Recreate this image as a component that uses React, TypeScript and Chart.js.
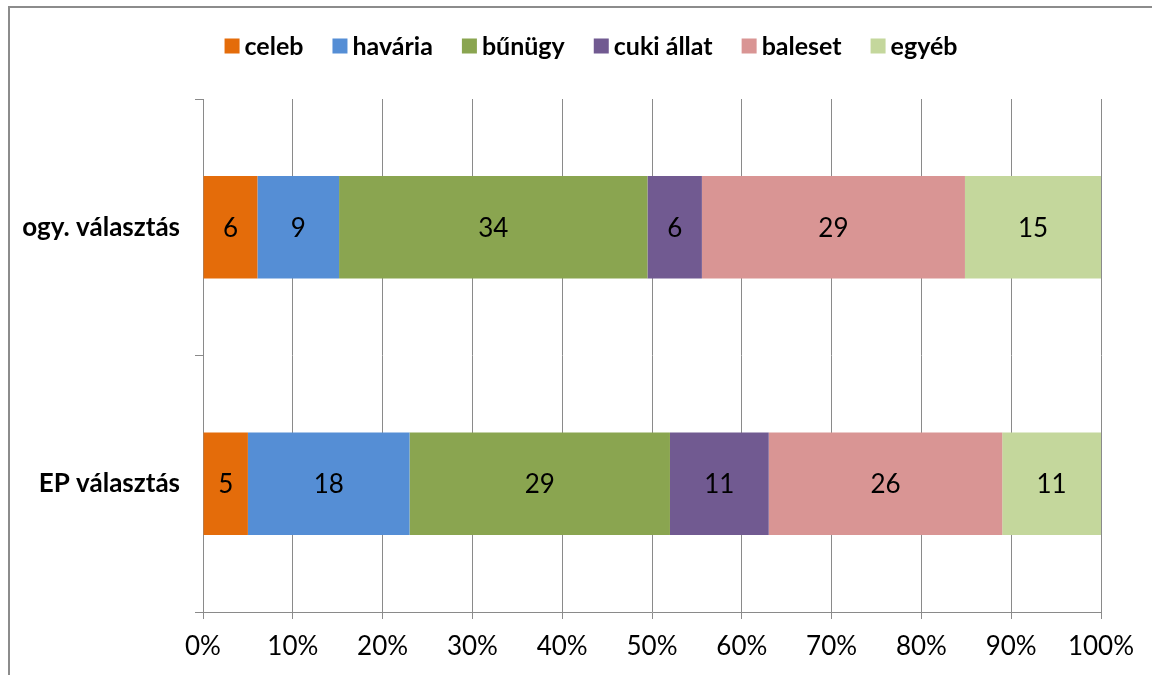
import React, { useEffect, useRef } from 'react';
import { Chart, registerables } from 'chart.js';

Chart.register(...registerables);

const categories = ['ogy. választás', 'EP választás'];
const seriesNames = ['celeb', 'havária', 'bűnügy', 'cuki állat', 'baleset', 'egyéb'];
const celeb = [6, 5];
const havaria = [9, 18];
const bunugy = [34, 29];
const cukiAllat = [6, 11];
const baleset = [29, 26];
const egyeb = [15, 11];
const seriesColors = ['#E46C0A', '#558ED5', '#8AA550', '#715A91', '#D99594', '#C4D79C'];
const xTickStep = 10;

const FONT = 'Lato, "Open Sans", sans-serif';

const allSeries = [celeb, havaria, bunugy, cukiAllat, baleset, egyeb];
const totals = categories.map((_, i) => allSeries.reduce((s, arr) => s + arr[i], 0));

const dataLabelPlugin = {
  id: 'dataLabels',
  afterDatasetsDraw(chart: any) {
    const ctx = chart.ctx;
    ctx.save();
    ctx.font = `26px ${FONT}`;
    ctx.fillStyle = '#000';
    ctx.textAlign = 'center';
    ctx.textBaseline = 'middle';
    chart.data.datasets.forEach((ds: any, di: number) => {
      const meta = chart.getDatasetMeta(di);
      meta.data.forEach((el: any, i: number) => {
        const raw = ds.raw[i];
        const cx = (el.x + el.base) / 2;
        ctx.fillText(String(raw), cx, el.y + 1);
      });
    });
    ctx.restore();
  },
};

const legendPlugin = {
  id: 'customLegend',
  afterDraw(chart: any) {
    const ctx = chart.ctx;
    ctx.save();
    ctx.font = `bold 25px ${FONT}`;
    ctx.textBaseline = 'middle';
    ctx.textAlign = 'left';
    const box = 15;
    const gap = 5;
    const itemGap = 29;
    const widths = seriesNames.map((n) => ctx.measureText(n).width);
    const total = widths.reduce((s, w) => s + box + gap + w, 0) + itemGap * (seriesNames.length - 1);
    let x = 581 - total / 2;
    const y = 38;
    seriesNames.forEach((n, i) => {
      ctx.fillStyle = seriesColors[i];
      ctx.fillRect(x, y - box / 2, box, box);
      ctx.fillStyle = '#000';
      ctx.fillText(n, x + box + gap, y + 1);
      x += box + gap + widths[i] + itemGap;
    });
    ctx.restore();
  },
};

export default function App() {
  const ref = useRef<HTMLCanvasElement | null>(null);

  useEffect(() => {
    if (!ref.current) return;
    const chart = new Chart(ref.current, {
      type: 'bar',
      data: {
        labels: categories,
        datasets: allSeries.map((arr, si) => ({
          label: seriesNames[si],
          data: arr.map((v, i) => (v / totals[i]) * 100),
          raw: arr,
          backgroundColor: seriesColors[si],
          borderWidth: 0,
          barPercentage: 0.4,
          categoryPercentage: 1,
        })) as any,
      },
      options: {
        indexAxis: 'y',
        animation: false,
        responsive: false,
        maintainAspectRatio: false,
        layout: { padding: { top: 91, right: 51, bottom: 0, left: 0 } },
        plugins: {
          legend: { display: false },
          tooltip: { enabled: false },
          title: { display: false },
        },
        scales: {
          x: {
            type: 'linear',
            stacked: true,
            min: 0,
            max: 100,
            ticks: {
              stepSize: xTickStep,
              callback: (v: any) => `${v}%`,
              font: { family: FONT, size: 26 },
              color: '#000',
              padding: 12,
              maxRotation: 0,
              autoSkip: false,
            },
            grid: { color: '#8A8A8A', lineWidth: 1, tickLength: 7 },
            border: { color: '#8A8A8A', width: 1 },
            afterFit: (scale: any) => {
              scale.height = 63;
            },
          },
          y: {
            type: 'category',
            stacked: true,
            ticks: {
              font: { family: FONT, size: 26, weight: 'bold' },
              color: '#000',
              padding: 15,
            },
            grid: { drawOnChartArea: false, tickLength: 8, color: '#8A8A8A', offset: true },
            border: { color: '#8A8A8A', width: 1 },
            afterFit: (scale: any) => {
              scale.width = 193;
            },
          },
        },
      } as any,
      plugins: [dataLabelPlugin, legendPlugin],
    });
    return () => chart.destroy();
  }, []);

  return (
    <div
      style={{
        position: 'fixed',
        left: 8,
        top: 6,
        width: 1144,
        height: 669,
        borderLeft: '2px solid #8C8C8C',
        borderTop: '2px solid #8C8C8C',
        boxSizing: 'border-box',
        background: '#fff',
        overflow: 'hidden',
      }}
    >
      <canvas ref={ref} width={1142} height={667} style={{ display: 'block' }} />
    </div>
  );
}
